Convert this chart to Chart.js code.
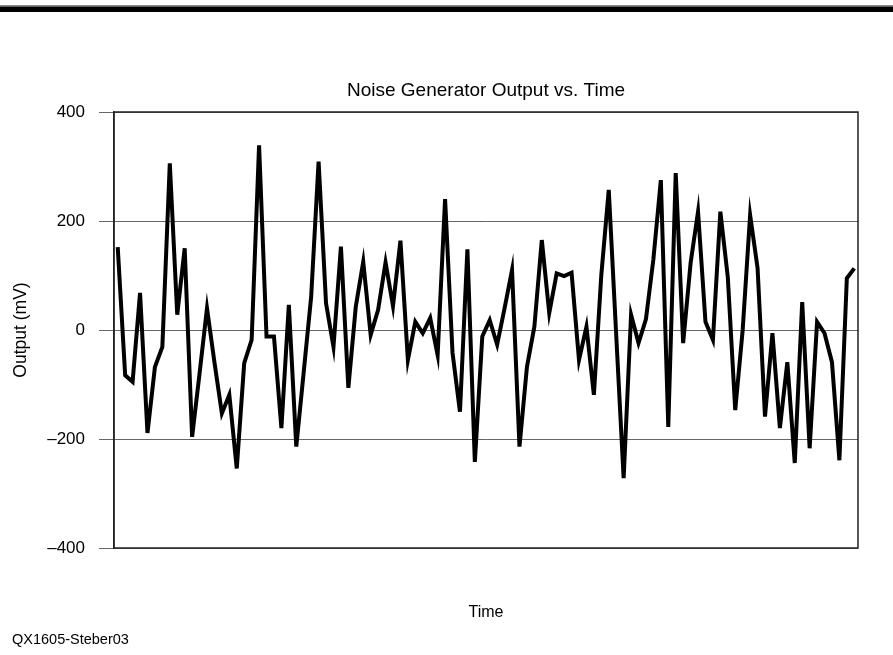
<!DOCTYPE html>
<html>
<head>
<meta charset="utf-8">
<script src="https://cdn.jsdelivr.net/npm/chart.js@4"></script>
<style>
  body { margin: 0; background: #fff; }
  canvas { display: block; }
</style>
</head>
<body>
<canvas id="noiseChart" width="893" height="655"></canvas>
<script>
// output of the noise generator, one reading per time step (mV)
let outputMv = [
  152, -83, -95, 68, -189, -68, -31, 306, 28, 150,
  -196, -80, 40, -59, -153, -119, -254, -61, -18, 339,
  -12, -12, -180, 46, -214, -77, 61, 309, 49, -31,
  153, -106, 43, 125, -9, 37, 124, 44, 164, -55,
  15, -6, 22, -46, 240, -42, -150, 148, -242, -12,
  18, -27, 40, 110, -214, -68, 6, 165, 31, 104,
  99, 105, -55, 6, -119, 101, 257, -9, -272, 28,
  -24, 20, 130, 275, -178, 288, -24, 123, 217, 15,
  -18, 217, 97, -147, 0, 211, 114, -159, -6, -180,
  -59, -244, 51, -217, 15, -6, -59, -239, 95, 113
];
let yTicks = [-400, -200, 0, 200, 400];
let chartTitle = "Noise Generator Output vs. Time";
let yTitle = "Output (mV)";
let xTitle = "Time";
let footNote = "QX1605-Steber03";

let points = outputMv.map((v, i) => ({ x: i, y: v }));

const FONT = "'Liberation Sans', Arial, sans-serif";

// top rule, plot frame and the figure id under the chart
const extras = {
  id: "extras",
  beforeDraw(chart) {
    const ctx = chart.ctx;
    ctx.save();
    ctx.fillStyle = "#fff";
    ctx.fillRect(0, 0, chart.width, chart.height);
    ctx.fillStyle = "#8a8a8a";
    ctx.fillRect(0, 5, chart.width, 1.5);
    ctx.fillStyle = "#000";
    ctx.fillRect(0, 6.5, chart.width, 5.5);
    ctx.restore();
  },
  afterDraw(chart) {
    const ctx = chart.ctx;
    const a = chart.chartArea;
    ctx.save();
    ctx.strokeStyle = "#222";
    ctx.lineWidth = 1.5;
    ctx.strokeRect(a.left, a.top, a.right - a.left, a.bottom - a.top);
    ctx.fillStyle = "#000";
    ctx.font = "14.5px " + FONT;
    ctx.textBaseline = "middle";
    ctx.textAlign = "left";
    ctx.fillText(footNote, 12, 640);
    ctx.restore();
  }
};

new Chart(document.getElementById("noiseChart"), {
  type: "line",
  data: {
    datasets: [{
      data: points,
      borderColor: "#000",
      borderWidth: 4,
      borderJoinStyle: "miter",
      pointRadius: 0,
      tension: 0,
      fill: false
    }]
  },
  options: {
    responsive: false,
    animation: false,
    layout: { padding: { left: 0, right: 35, top: 0, bottom: 33 } },
    plugins: {
      legend: { display: false },
      tooltip: { enabled: false },
      title: { display: false }
    },
    scales: {
      x: {
        type: "linear",
        min: -0.5,
        max: 99.5,
        position: "bottom",
        ticks: { display: false },
        grid: { display: false, drawTicks: false },
        border: { display: false },
        title: {
          display: true,
          text: xTitle,
          color: "#000",
          font: { family: FONT, size: 16 },
          padding: 0
        },
        afterFit(scale) { scale.height = 74; }
      },
      xTop: {
        type: "linear",
        position: "top",
        min: 0,
        max: 1,
        ticks: { display: false },
        grid: { display: false, drawTicks: false },
        border: { display: false },
        title: {
          display: true,
          text: chartTitle,
          color: "#000",
          font: { family: FONT, size: 19 },
          padding: { top: 79, bottom: 0 }
        },
        afterFit(scale) { scale.height = 112; }
      },
      y: {
        min: -400,
        max: 400,
        afterBuildTicks(scale) {
          scale.ticks = yTicks.map((v) => ({ value: v }));
        },
        ticks: {
          color: "#000",
          font: { family: FONT, size: 17 },
          padding: 14,
          callback: (v) => (v < 0 ? "\u2013" + Math.abs(v) : String(v))
        },
        grid: {
          color: "#666",
          lineWidth: 1,
          tickLength: 15,
          drawTicks: true
        },
        border: { display: true, color: "#222", width: 1.5 },
        title: {
          display: true,
          text: yTitle,
          color: "#000",
          font: { family: FONT, size: 17.5 },
          padding: { top: 11, bottom: 0 }
        },
        afterFit(scale) { scale.width = 114; }
      }
    }
  },
  plugins: [extras]
});
</script>
</body>
</html>
